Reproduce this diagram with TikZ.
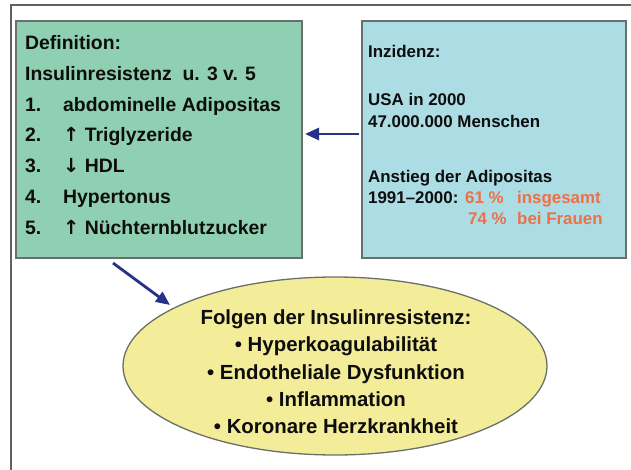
\documentclass[tikz,border=0pt]{standalone}
\usepackage{fontspec}
\setmainfont{Liberation Sans}
\newfontfamily\arrowfont{DejaVu Sans}
\newcommand{\arrup}{{\arrowfont\bfseries ↑}}
\newcommand{\arrdn}{{\arrowfont\bfseries ↓}}
\usetikzlibrary{arrows.meta,shapes.geometric}
\definecolor{boxgreen}{RGB}{143,208,178}
\definecolor{boxblue}{RGB}{172,221,229}
\definecolor{ovalyellow}{RGB}{243,236,152}
\definecolor{rimgray}{RGB}{105,112,108}
\definecolor{arrowblue}{RGB}{38,50,135}
\definecolor{accent}{RGB}{236,112,72}
\tikzset{
  infobox/.style={draw=rimgray, line width=1.3pt, inner sep=0pt, outer sep=0pt, anchor=north west},
  deftext/.style={anchor=base west, inner sep=0pt, text=black!95, font=\bfseries\fontsize{19.4}{22}\selectfont},
  inctext/.style={anchor=base west, inner sep=0pt, text=black!95, font=\bfseries\fontsize{16.9}{20}\selectfont},
  flow/.style={draw=arrowblue, line width=2.8pt, -{Triangle[length=14pt,width=12pt]}},
}

\begin{document}
\begin{tikzpicture}[x=1pt,y=-1pt]
		%%%%% START %%%%%
		\useasboundingbox (0,0) rectangle (631,470);
		\draw[line width=2pt, color=black!62] (11,470) -- (11,5) -- (631,5);
		
		\node[infobox, fill=boxgreen, minimum width=286, minimum height=237] (defbox) at (16,21) {};
		\node[infobox, fill=boxblue, minimum width=264, minimum height=237] (incbox) at (362,21) {};
		\node[ellipse, draw=rimgray, line width=1.3pt, fill=ovalyellow, minimum width=424, minimum height=178, inner sep=0pt] (folgen) at (335,366) {};
		
		% definition box
		\node[deftext] (def) at (25,50) {Definition:};
		\node[deftext] (ir) at (25,80.5) {Insulinresistenz\ \ u. 3 v. 5};
		\foreach \n/\txt [count=\i] in {1/abdominelle Adipositas, 2/\arrup\ Triglyzeride, 3/\arrdn\ HDL, 4/Hypertonus, 5/\arrup\ Nüchternblutzucker}{
			\node[deftext] (num\n) at (25,80.5+30.7*\i) {\n.};
			\node[deftext] (item\n) at (63,80.5+30.7*\i) {\txt};
		}
		
		% incidence box
		\node[inctext] (inz) at (368,58) {Inzidenz:};
		\node[inctext] (usa) at (368,106) {USA in 2000};
		\node[inctext] (menschen) at (368,128) {47.000.000 Menschen};
		\node[inctext] (anstieg) at (368,183) {Anstieg der Adipositas};
		\node[inctext] (jahre) at (368,204) {1991–2000:};
		\node[inctext, text=accent] (p61) at (465,204) {61 \%};
		\node[inctext, text=accent] (gesamt) at (517,204) {insgesamt};
		\node[inctext, text=accent] (p74) at (468,225) {74 \%};
		\node[inctext, text=accent] (frauen) at (517,225) {bei Frauen};
		
		% consequences
		\node[align=center, inner sep=0pt, text=black!95, font=\bfseries\fontsize{20.4}{27.3}\selectfont] (folgentext) at (336,372) {Folgen der Insulinresistenz:\\• Hyperkoagulabilität\\• Endotheliale Dysfunktion\\• Inflammation\\• Koronare Herzkrankheit};
		
		% arrows
		\draw[flow, shorten <=3pt, shorten >=3pt] ([yshift=5.5pt]incbox.west) -- ([yshift=5.5pt]defbox.east);
		\coordinate (tail) at (113,263);
		\coordinate (head) at (170,305);
		\draw[flow] (tail) -- (head);
		%%%%% END %%%%%
	\end{tikzpicture}
\end{document}
